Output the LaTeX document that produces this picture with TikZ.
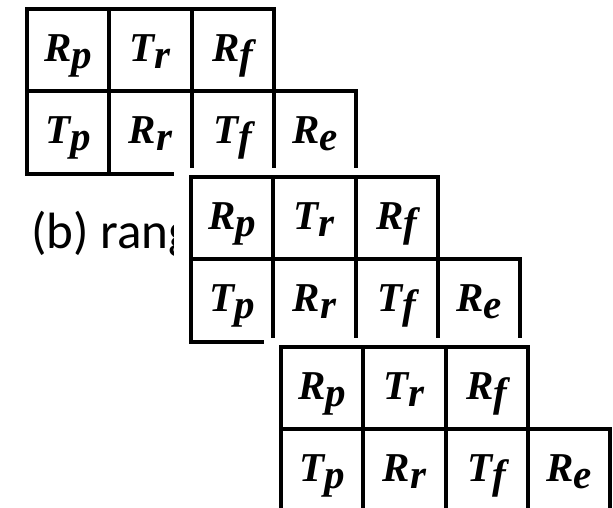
\documentclass[tikz,border=0pt]{standalone}
\usepackage{fontspec}
\newfontfamily\labfont{Liberation Serif}
\newfontfamily\capfont{Carlito}
\newcommand\cellsub[2]{#1\raisebox{-0.17em}{#2}}
\begin{document}
\begin{tikzpicture}[x=1pt,y=-1pt,
  cell/.style={draw=black, line width=4pt, minimum width=82.3pt, minimum height=82.3pt,
    inner sep=0pt, text height=30pt, text depth=8pt,
    font=\labfont\fontsize{41}{41}\selectfont\bfseries\itshape},
  capt/.style={anchor=base west, inner sep=0pt, font=\capfont\fontsize{51}{51}\selectfont}]
\useasboundingbox (0,0) rectangle (613,507);
\fill[white] (0,0) rectangle (613,507);
\node[capt] (cap) at (31,248) {(b) rang};
\foreach \k/\ox/\oy in {1/27/9, 2/191/177, 3/281/347} {
  \ifnum\k>1
    \fill[white] (\ox-17,\oy-9) rectangle (613,507);
  \fi
  \foreach \i/\L/\s/\n in {0/R/p/rp, 1/T/r/tr, 2/R/f/rf}
    \node[cell] (b\k\n) at (\ox+82.3*\i+41.15, \oy+41.15) {\cellsub{\L}{\s}};
  \foreach \i/\L/\s/\n in {0/T/p/tp, 1/R/r/rr, 2/T/f/tf, 3/R/e/re}
    \node[cell] (b\k\n) at (\ox+82.3*\i+41.15, \oy+123.45) {\cellsub{\L}{\s}};
}
\end{tikzpicture}
\end{document}
